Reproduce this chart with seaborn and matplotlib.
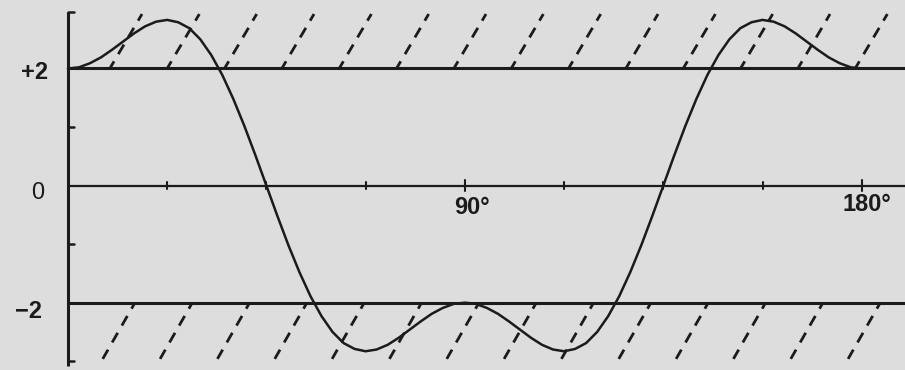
import numpy as np
import pandas as pd
import matplotlib
matplotlib.use("Agg")
import matplotlib.pyplot as plt
import seaborn as sns

# Phase angle (degrees) and resulting amplitude of the waveform
angles = [0, 2.5, 5, 7.5, 10, 12.5, 15, 17.5, 20, 22.5, 25, 27.5, 30, 32.5, 35, 37.5,
          40, 42.5, 45, 47.5, 50, 52.5, 55, 57.5, 60, 62.5, 65, 67.5, 70, 72.5, 75,
          77.5, 80, 82.5, 85, 87.5, 90, 92.5, 95, 97.5, 100, 102.5, 105, 107.5, 110,
          112.5, 115, 117.5, 120, 122.5, 125, 127.5, 130, 132.5, 135, 137.5, 140,
          142.5, 145, 147.5, 150, 152.5, 155, 157.5, 160, 162.5, 165, 167.5, 170,
          172.5, 175, 177.5, 180]
amplitude = [2.00, 2.02, 2.09, 2.19, 2.32, 2.46, 2.60, 2.72, 2.80, 2.83, 2.79, 2.69,
             2.50, 2.23, 1.89, 1.48, 1.02, 0.52, 0.00, -0.52, -1.02, -1.48, -1.89,
             -2.23, -2.50, -2.69, -2.79, -2.83, -2.80, -2.72, -2.60, -2.46, -2.32,
             -2.19, -2.09, -2.02, -2.00, -2.02, -2.09, -2.19, -2.32, -2.46, -2.60,
             -2.72, -2.80, -2.83, -2.79, -2.69, -2.50, -2.23, -1.89, -1.48, -1.02,
             -0.52, 0.00, 0.52, 1.02, 1.48, 1.89, 2.23, 2.50, 2.69, 2.79, 2.83, 2.80,
             2.72, 2.60, 2.46, 2.32, 2.19, 2.09, 2.02, 2.00]

# Limit levels and their labels
levels = [2, 0, -2]
level_labels = ["+2", "0", "\u22122"]
minor_levels = [3, 1, -1, -3]

# Angle ticks along the zero line and labelled angles
angle_ticks = [22.5, 45, 67.5, 90, 112.5, 135, 157.5, 180]
angle_labels = {90: "90\u00b0", 180: "180\u00b0"}

# Hatched out-of-band regions: foot of each upper stroke, head of each lower stroke
hatch_upper = [9.5, 22.5, 35.5, 48.5, 61.5, 74.5, 87.5, 100.5, 113.5, 126.5,
               139.5, 152.5, 165.5, 178.5]
hatch_lower = [15.2, 28.2, 41.2, 54.2, 67.2, 80.2, 93.2, 106.2, 119.2, 132.2,
               145.2, 158.2, 171.2, 184.2]

df = pd.DataFrame({"angle": angles, "amplitude": amplitude})

sns.set_theme(style="white")
plt.rcParams["font.family"] = ["Liberation Sans", "DejaVu Sans"]

ink = "#1b1b1b"
paper = "#dddddd"

fig = plt.figure(figsize=(9.05, 3.70), dpi=100)
fig.patch.set_facecolor(paper)
ax = fig.add_axes([0, 0, 1, 1])
ax.set_facecolor(paper)

# vertical scale
ax.plot([0, 0], [-3.08, 2.97], color=ink, lw=2.2, solid_capstyle="butt")
for lv in minor_levels:
    y = max(min(lv, 2.97), -3.08)
    ax.plot([0, 1.3], [y, y], color=ink, lw=1.8)

# horizontal reference lines
for lv in levels:
    ax.plot([0, 189.8], [lv, lv], color=ink, lw=2.2 if lv else 1.6)

# angle ticks on zero line
for a in angle_ticks:
    h = 0.09 if a in angle_labels else 0.06
    ax.plot([a, a], [-h, h], color=ink, lw=1.5)

# hatching above +2 and below -2
slant = 7.3
for x0 in hatch_upper:
    ax.plot([x0, x0 + slant], [2, 2.93], color=ink, lw=2.0,
            linestyle=(1.0, (4.0, 3.0)), solid_capstyle="butt")
for x1 in hatch_lower:
    ax.plot([x1, x1 - slant], [-2, -2.96], color=ink, lw=2.0,
            linestyle=(1.5, (4.0, 3.0)), solid_capstyle="butt")

# waveform
sns.lineplot(data=df, x="angle", y="amplitude", ax=ax, color=ink, lw=1.8,
             legend=False)
ax.set_xlim(-15.4, 189.8)
ax.set_ylim(-3.15, 3.17)
ax.axis("off")

# level labels
label_pos = {"+2": (-7.6, 1.94, "bold"), "0": (-6.9, -0.13, "normal"),
             "\u22122": (-9.0, -2.15, "bold")}
for txt in level_labels:
    x, y, w = label_pos[txt]
    ax.text(x, y, txt, ha="center", va="center", fontsize=17, fontweight=w,
            color=ink)

ax.text(91.6, -0.37, angle_labels[90], ha="center", va="center", fontsize=17,
        fontweight="bold", color=ink)
ax.text(181.2, -0.33, angle_labels[180], ha="center", va="center", fontsize=17,
        fontweight="bold", color=ink)

fig.savefig("out.png", dpi=100, facecolor=paper)
